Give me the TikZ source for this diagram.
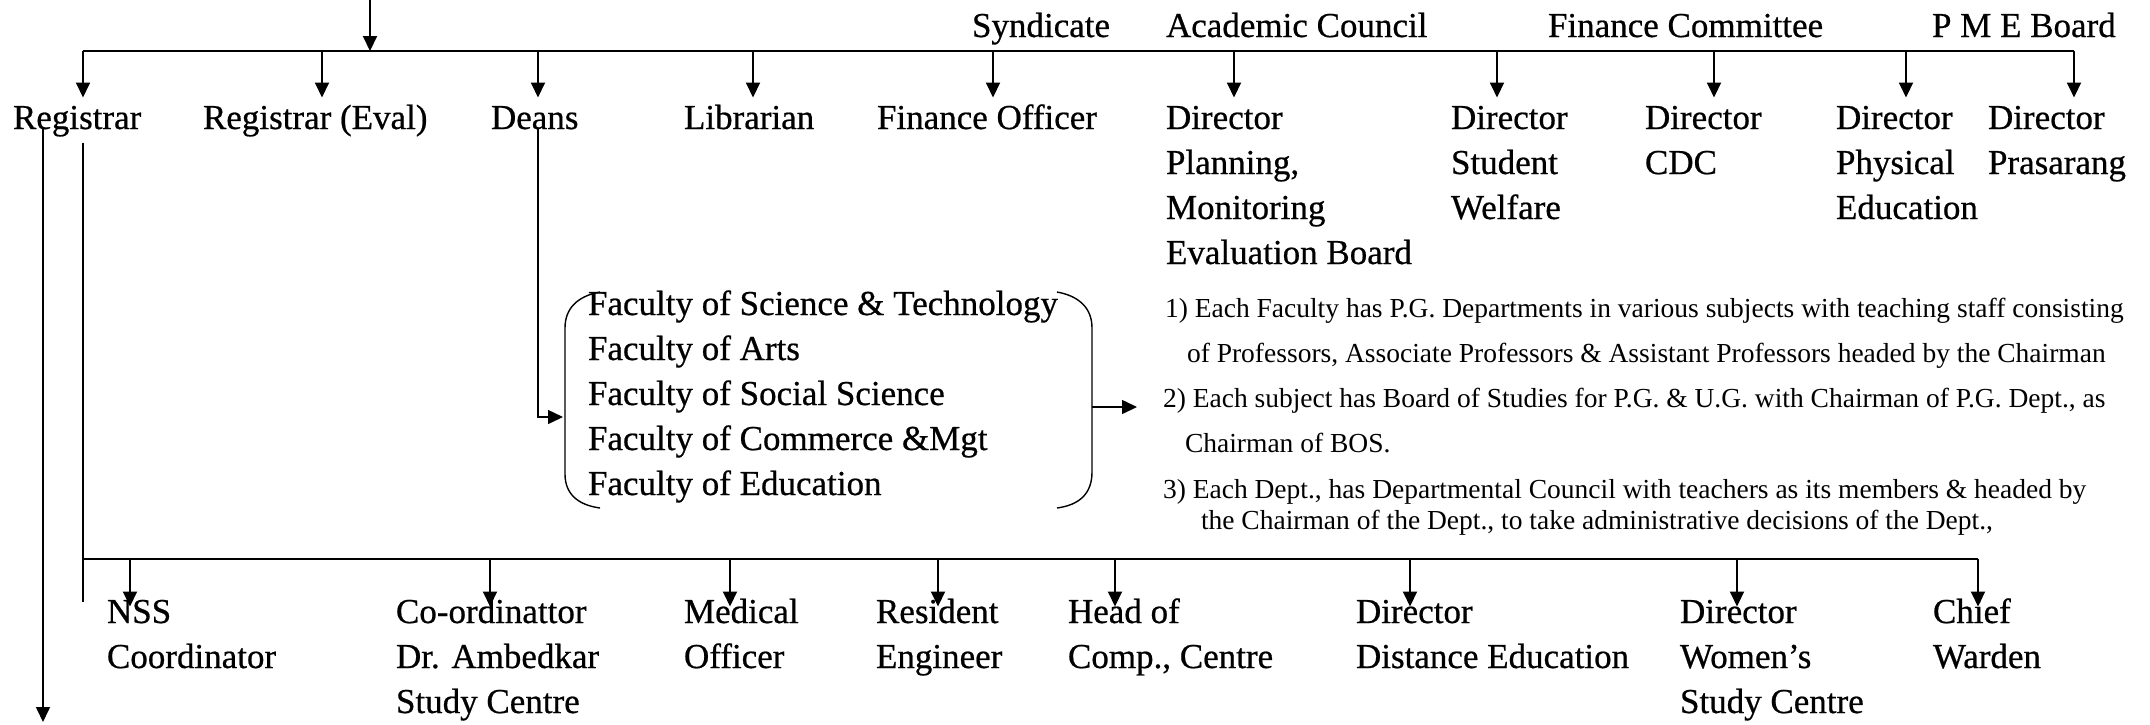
\documentclass[tikz,border=0pt]{standalone}
\usepackage{fontspec}
\setmainfont{Liberation Serif}
\newfontfamily\heavyserif{Liberation Serif}[FakeBold=0.6]
\usetikzlibrary{arrows.meta,calc}
\newcommand{\lns}[1]{\begin{tabular}[t]{@{}l@{}}#1\end{tabular}}
\begin{document}
\begin{tikzpicture}[x=1pt,y=-1pt,
  lbl/.style={inner sep=0pt, outer sep=0pt, anchor=base west, font=\heavyserif\fontsize{35}{45}\selectfont},
  note/.style={inner sep=0pt, outer sep=0pt, anchor=base west, font=\fontsize{27.5}{35}\selectfont},
  tip/.style={-{Triangle[length=15pt,width=14pt]}},
  arr/.style={tip, line width=2pt},
  thinarr/.style={tip, line width=1.5pt},
  mainbus/.style={line width=2.8pt},
  subbus/.style={line width=2.4pt},
  thinline/.style={line width=1.5pt},
  paren/.style={line width=1.4pt},
]
\useasboundingbox (0,0) rectangle (2150,724);

% top labels
\node[lbl] (syn) at (972,37) {Syndicate};
\node[lbl] (ac) at (1166,37) {Academic Council};
\node[lbl] (fc) at (1548,37) {Finance Committee};
\node[lbl] (pme) at (1932,37) {P M E Board};

% top bus
\coordinate (vc) at (370,0);
\coordinate (busT) at (370,51);
\coordinate (busL) at (83,51);
\coordinate (busR) at (2074,51);
\draw[mainbus] (busL) -- (busR);
\draw[arr] (vc) -- (busT);

% second row
\node[lbl] (reg) at (13,129) {\lns{Registrar}};
\node[lbl] (rege) at (203,129) {\lns{Registrar (Eval)}};
\node[lbl] (deans) at (491,129) {\lns{Deans}};
\node[lbl] (lib) at (684,129) {\lns{Librarian}};
\node[lbl] (fo) at (877,129) {\lns{Finance Officer}};
\node[lbl] (dpm) at (1166,129) {\lns{Director\\Planning,\\Monitoring\\Evaluation Board}};
\node[lbl] (dsw) at (1451,129) {\lns{Director\\Student\\Welfare}};
\node[lbl] (dcdc) at (1645,129) {\lns{Director\\CDC}};
\node[lbl] (dpe) at (1836,129) {\lns{Director\\Physical\\Education}};
\node[lbl] (dpr) at (1988,129) {\lns{Director\\Prasarang}};

\foreach \x/\n in {83/reg, 322/rege, 538/deans, 753/lib, 993/fo, 1234/dpm, 1497/dsw, 1714/dcdc, 1906/dpe, 2074/dpr}{
  \coordinate (t\n) at (\x,51);
  \draw[arr] (t\n) -- (t\n |- \n.north);
}

% registrar lines
\coordinate (rA) at (43,722);
\draw[thinarr] (rA |- reg.base) -- (rA);
\coordinate (rB) at (83,602);
\draw[thinline] (rB |- reg.south) -- (rB);

% bottom bus
\coordinate (bL) at (83,559);
\coordinate (bR) at (1978,559);
\draw[subbus] (bL) -- (bR);

% bottom row
\node[lbl] (nss) at (107,623) {\lns{NSS\\Coordinator}};
\node[lbl] (amb) at (396,623) {\lns{Co-ordinattor\\Dr. Ambedkar\\Study Centre}};
\node[lbl] (med) at (684,623) {\lns{Medical\\Officer}};
\node[lbl] (res) at (876,623) {\lns{Resident\\Engineer}};
\node[lbl] (comp) at (1068,623) {\lns{Head of\\Comp., Centre}};
\node[lbl] (dde) at (1356,623) {\lns{Director\\Distance Education}};
\node[lbl] (dws) at (1680,623) {\lns{Director\\Women’s\\Study Centre}};
\node[lbl] (cw) at (1933,623) {\lns{Chief\\Warden}};

\foreach \x/\n in {130/nss, 490/amb, 730/med, 938/res, 1115/comp, 1410/dde, 1737/dws, 1978/cw}{
  \coordinate (b\n) at (\x,559);
  \draw[arr] (b\n) -- ($(b\n |- \n.north)+(0,15)$);
}

% faculties
\node[lbl] (fac) at (588,315) {\lns{Faculty of Science \& Technology\\Faculty of Arts\\Faculty of Social Science\\Faculty of Commerce \&Mgt\\Faculty of Education}};
\draw[paren] (600,292) .. controls (578,296) and (565,308) .. (565,328) -- (565,474) .. controls (565,494) and (578,505) .. (600,508);
\draw[paren] (1057,292) .. controls (1079,296) and (1092,308) .. (1092,328) -- (1092,472) .. controls (1092,494) and (1079,505) .. (1057,508);

% deans to faculties
\coordinate (dv) at (538,417);
\coordinate (lbr) at (563,417);
\draw[thinarr] (dv |- deans.base) -- (dv) -- (lbr);

% faculties to notes
\coordinate (rbr) at (1092,407);
\coordinate (rtip) at (1137,407);
\draw[thinarr] (rbr) -- (rtip);

% notes
\node[note] (n1a) at (1165,317) {1) Each Faculty has P.G. Departments in various subjects with teaching staff consisting};
\node[note] (n1b) at (1187,362) {of Professors, Associate Professors \& Assistant Professors headed by the Chairman};
\node[note] (n2a) at (1163,407) {2) Each subject has Board of Studies for P.G. \& U.G. with Chairman of P.G. Dept., as};
\node[note] (n2b) at (1185,452) {Chairman of BOS.};
\node[note] (n3a) at (1163,498) {3) Each Dept., has Departmental Council with teachers as its members \& headed by};
\node[note] (n3b) at (1201,529) {the Chairman of the Dept., to take administrative decisions of the Dept.,};
\end{tikzpicture}
\end{document}
